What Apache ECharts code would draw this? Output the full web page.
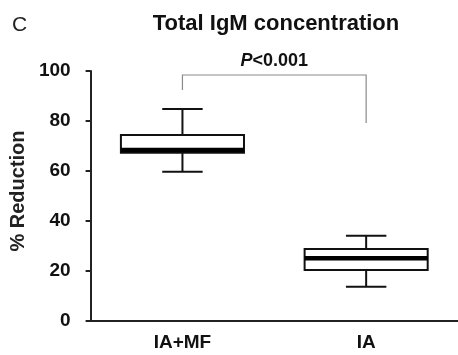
<!DOCTYPE html>
<html>
<head>
<meta charset="utf-8">
<script src="https://cdn.jsdelivr.net/npm/echarts@6/dist/echarts.min.js"></script>
<style>html,body{margin:0;padding:0;background:#fff}#c{width:458px;height:355px}</style>
</head>
<body>
<div id="c"></div>
<script>
// Data
var categories = ['IA+MF', 'IA'];
var whiskerLow = [59.7, 13.7];
var q1Vals = [67.3, 20.4];
var medianVals = [68.4, 25.1];
var q3Vals = [74.4, 28.8];
var whiskerHigh = [84.8, 34.1];
var yTicks = [0, 20, 40, 60, 80, 100];
// significance bracket: [left category, right category, left leg bottom, bar level, right leg bottom]
var bracket = [0, 1, 92.4, 98.4, 79.2];
var pLabel = '<0.001';

var FONT = '"Liberation Sans", Arial, sans-serif';
var chart = echarts.init(document.getElementById('c'));

var boxData = categories.map(function (c, i) {
  return [i, whiskerLow[i], q1Vals[i], medianVals[i], q3Vals[i], whiskerHigh[i]];
});

function renderBox(params, api) {
  var x = api.value(0);
  var band = api.size([1, 0])[0];
  var bw = band * 0.67, cw = band * 0.22;
  var pMin = api.coord([x, api.value(1)]);
  var pQ1 = api.coord([x, api.value(2)]);
  var pMed = api.coord([x, api.value(3)]);
  var pQ3 = api.coord([x, api.value(4)]);
  var pMax = api.coord([x, api.value(5)]);
  var cx = pMin[0];
  var st = { stroke: '#111', lineWidth: 2, fill: null };
  return {
    type: 'group',
    children: [
      { type: 'line', shape: { x1: cx, y1: pMax[1], x2: cx, y2: pQ3[1] }, style: st },
      { type: 'line', shape: { x1: cx, y1: pQ1[1], x2: cx, y2: pMin[1] }, style: st },
      { type: 'line', shape: { x1: cx - cw / 2, y1: pMax[1], x2: cx + cw / 2, y2: pMax[1] }, style: st },
      { type: 'line', shape: { x1: cx - cw / 2, y1: pMin[1], x2: cx + cw / 2, y2: pMin[1] }, style: st },
      { type: 'rect', shape: { x: cx - bw / 2, y: pQ3[1], width: bw, height: pQ1[1] - pQ3[1] },
        style: { stroke: '#111', lineWidth: 2, fill: '#fff' } },
      { type: 'line', shape: { x1: cx - bw / 2, y1: pMed[1], x2: cx + bw / 2, y2: pMed[1] },
        style: { stroke: '#000', lineWidth: 4.5 } }
    ]
  };
}

function renderBracket(params, api) {
  var a = api.value(0), b = api.value(1);
  var pL = api.coord([a, api.value(2)]);
  var pT = api.coord([a, api.value(3)]);
  var pR = api.coord([b, api.value(4)]);
  var pRT = api.coord([b, api.value(3)]);
  return {
    type: 'group',
    children: [
      { type: 'polyline', shape: { points: [[pL[0], pL[1]], [pT[0], pT[1]], [pRT[0], pRT[1]], [pR[0], pR[1]]] },
        style: { stroke: '#8a8a8a', lineWidth: 1.2, fill: null } },
      { type: 'text', x: (pT[0] + pRT[0]) / 2, y: pT[1] - 5,
        style: {
          text: '{i|P}{n|' + pLabel + '}', align: 'center', verticalAlign: 'bottom',
          rich: {
            i: { fontStyle: 'italic', fontWeight: 'bold', fontSize: 18, fontFamily: FONT, fill: '#111' },
            n: { fontWeight: 'bold', fontSize: 18, fontFamily: FONT, fill: '#111' }
          }
        } }
    ]
  };
}

chart.setOption({
  animation: false,
  backgroundColor: '#fff',
  title: [
    { text: 'Total IgM concentration', left: 271, top: 8, textAlign: 'center',
      textStyle: { fontFamily: FONT, fontWeight: 'bold', fontSize: 22, color: '#111' } },
    { text: 'C', left: 7, top: 10,
      textStyle: { fontFamily: FONT, fontWeight: 'normal', fontSize: 21, color: '#222' } }
  ],
  grid: { left: 88, right: 0, top: 71, bottom: 34 },
  xAxis: {
    type: 'category', data: categories, boundaryGap: true,
    axisLine: { lineStyle: { color: '#222', width: 2 } },
    axisTick: { alignWithLabel: true, length: 4, lineStyle: { color: '#222', width: 2 } },
    axisLabel: { fontFamily: FONT, fontWeight: 'bold', fontSize: 19, color: '#111', margin: 12 }
  },
  yAxis: {
    type: 'value', min: yTicks[0], max: yTicks[yTicks.length - 1], interval: 20,
    splitLine: { show: false },
    axisLine: { show: true, lineStyle: { color: '#222', width: 2 } },
    axisTick: { show: true, length: 5, lineStyle: { color: '#222', width: 2 } },
    axisLabel: { fontFamily: FONT, fontWeight: 'bold', fontSize: 19, color: '#111', margin: 20 },
    name: '% Reduction', nameLocation: 'middle', nameRotate: 90, nameGap: 56,
    nameTextStyle: { fontFamily: FONT, fontWeight: 'bold', fontSize: 20, color: '#222', padding: [0, 0, 0, 10] }
  },
  series: [
    { type: 'custom', renderItem: renderBox, data: boxData, encode: { x: 0, y: [1, 2, 3, 4, 5] }, z: 3 },
    { type: 'custom', renderItem: renderBracket, data: [bracket], encode: { x: [0, 1], y: [2, 3, 4] }, z: 2, clip: false }
  ]
});
</script>
</body>
</html>
